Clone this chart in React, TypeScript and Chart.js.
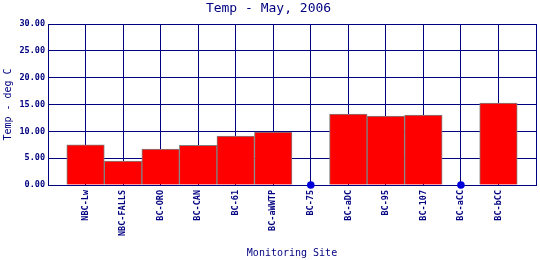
import React, { useEffect, useRef } from "react";
import { Chart, registerables } from "chart.js";

Chart.register(...registerables);

const sites = ["NBC-Lw", "NBC-FALLS", "BC-ORO", "BC-CAN", "BC-61", "BC-aWWTP", "BC-75", "BC-aDC", "BC-95", "BC-107", "BC-aCC", "BC-bCC"];
const temps: (number | null)[] = [7.5, 4.45, 6.7, 7.4, 9.1, 9.85, null, 13.2, 12.85, 13.05, null, 15.25];
const missing: (number | null)[] = [null, null, null, null, null, null, 0, null, null, null, 0, null];
const yTicks = [0, 5, 10, 15, 20, 25, 30];

const NAVY = "#000080";
const MONO = "'DejaVu Sans Mono', monospace";

export default function App() {
  const ref = useRef<HTMLCanvasElement>(null);
  useEffect(() => {
    const labels = ["", ...sites, ""];
    const barData = [null, ...temps, null];
    const dotData = [null, ...missing, null];
    const chart = new Chart(ref.current!, {
      type: "bar",
      data: {
        labels,
        datasets: [
          {
            type: "bar",
            data: barData,
            backgroundColor: "#ff0000",
            borderColor: "#808080",
            borderWidth: 1,
            barPercentage: 1,
            categoryPercentage: 1,
            order: 2,
          },
          {
            type: "line",
            data: dotData,
            showLine: false,
            pointRadius: 3.8,
            pointBackgroundColor: "#0000dd",
            pointBorderColor: "#0000dd",
            pointBorderWidth: 0,
            clip: false,
            order: 1,
          } as any,
        ],
      },
      options: {
        animation: false,
        responsive: false,
        maintainAspectRatio: false,
        layout: { padding: { left: 0, right: 3, top: 0, bottom: 0 } },
        plugins: {
          legend: { display: false },
          tooltip: { enabled: false },
          title: {
            display: true,
            text: "Temp - May, 2006",
            color: NAVY,
            font: { family: MONO, size: 13, weight: "normal", lineHeight: 1.2 },
            padding: { top: 1, bottom: 7.4 },
          },
        },
        scales: {
          x: {
            type: "category",
            offset: false,
            grid: { color: NAVY, lineWidth: 1, drawTicks: false, offset: false },
            border: { color: NAVY, width: 1 },
            ticks: {
              color: NAVY,
              font: { family: MONO, size: 8.5, weight: "bold" },
              minRotation: 90,
              maxRotation: 90,
              autoSkip: false,
              padding: 5,
            },
            title: {
              display: true,
              text: "Monitoring Site",
              color: NAVY,
              font: { family: MONO, size: 10, lineHeight: 1.2 },
              padding: { top: 0, bottom: 1 },
            },
            afterFit: (s: any) => {
              s.height = 75;
              s.paddingLeft = 0;
              s.paddingRight = 0;
            },
          },
          y: {
            min: 0,
            max: 30,
            afterBuildTicks: (s: any) => {
              s.ticks = yTicks.map((v) => ({ value: v }));
            },
            grid: { color: NAVY, lineWidth: 1, drawTicks: false },
            border: { color: NAVY, width: 1 },
            ticks: {
              color: NAVY,
              font: { family: MONO, size: 8.5, weight: "bold" },
              padding: 3,
              callback: (v: any) => Number(v).toFixed(2),
            },
            title: {
              display: true,
              text: "Temp - deg C",
              color: NAVY,
              font: { family: MONO, size: 10, lineHeight: 1.2 },
              padding: { top: 2, bottom: 0 },
            },
            afterFit: (s: any) => {
              s.width = 48;
              s.paddingTop = 0;
              s.paddingBottom = 0;
            },
          },
        },
      },
    });
    return () => chart.destroy();
  }, []);
  return (
    <div style={{ position: "fixed", left: 0, top: 0, width: 540, height: 260, background: "#fff" }}>
      <canvas ref={ref} width={540} height={260} style={{ width: 540, height: 260 }} />
    </div>
  );
}
